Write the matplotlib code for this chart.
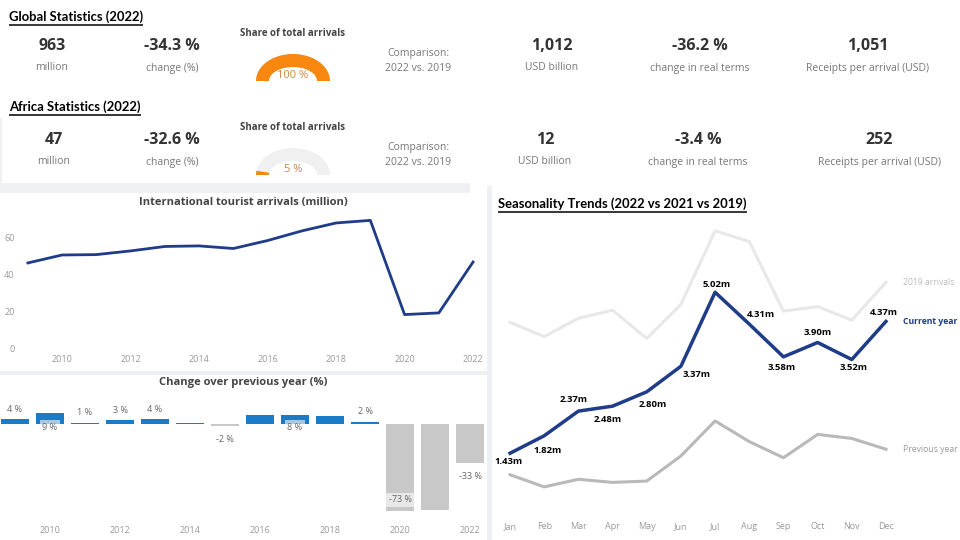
import numpy as np
import matplotlib
matplotlib.use("Agg")
import matplotlib.pyplot as plt
from matplotlib.patches import Rectangle, Polygon

plt.rcParams['font.family'] = ['Open Sans', 'DejaVu Sans']

# ---- data ----
global_values = ["963", "-34.3 %", "1,012", "-36.2 %", "1,051"]
global_labels = ["million", "change (%)", "USD billion", "change in real terms", "Receipts per arrival (USD)"]
global_share = 100
africa_values = ["47", "-32.6 %", "12", "-3.4 %", "252"]
africa_labels = ["million", "change (%)", "USD billion", "change in real terms", "Receipts per arrival (USD)"]
africa_share = 5

years = list(range(2009, 2023))
arrivals = [46.5, 50.8, 51.0, 53.0, 55.4, 55.7, 54.3, 58.6, 63.8, 68.1, 69.5, 18.6, 19.5, 47.0]
change_pct = [4, 9, 1, 3, 4, 0.5, -2, 8, 8, 7, 2, -73, -72, -33]
change_labels = ["4 %", "9 %", "1 %", "3 %", "4 %", "", "-2 %", "", "8 %", "", "2 %", "-73 %", "", "-33 %"]

months = ["Jan", "Feb", "Mar", "Apr", "May", "Jun", "Jul", "Aug", "Sep", "Oct", "Nov", "Dec"]
current_year = [1.43, 1.82, 2.37, 2.48, 2.80, 3.37, 5.02, 4.31, 3.58, 3.90, 3.52, 4.37]
arrivals_2019 = [4.35, 4.03, 4.44, 4.62, 3.99, 4.75, 6.39, 6.15, 4.60, 4.70, 4.40, 5.24]
previous_year = [0.95, 0.68, 0.85, 0.78, 0.81, 1.37, 2.15, 1.69, 1.33, 1.85, 1.76, 1.52]

W, H = 960, 540
fig = plt.figure(figsize=(9.6, 5.4), dpi=100)
fig.patch.set_facecolor("white")

def rect(l, t, r, b):
    return [l / W, 1 - b / H, (r - l) / W, (b - t) / H]

bg = fig.add_axes([0, 0, 1, 1])
bg.set_xlim(0, W); bg.set_ylim(H, 0); bg.axis("off")

SEP = "#eef0f3"
# panel separators
bg.add_patch(Rectangle((0, 183), 470, 10, color=SEP, lw=0))
bg.add_patch(Rectangle((0, 371), 488, 4, color=SEP, lw=0))
bg.add_patch(Rectangle((487, 186), 5, 354, color=SEP, lw=0))
bg.add_patch(Rectangle((0, 118), 2, 66, color=SEP, lw=0))

renderer = fig.canvas.get_renderer()

def title(x, y, s):
    t = bg.text(x, y, s, fontsize=9.4, fontweight="bold", family=["Lato", "DejaVu Sans"],
                color="black", ha="left", va="center")
    bb = t.get_window_extent(renderer)
    bg.plot([bb.x0, bb.x1], [y + 7.5, y + 7.5], color="black", lw=1.1, solid_capstyle="butt")

def gauge(cx, cy, share, lab_y):
    rx_o, ry_o, rx_i, ry_i = 37, 27, 24, 14
    def arc(frac_start, frac_end, color):
        t = np.linspace(np.pi * (1 - frac_start), np.pi * (1 - frac_end), 60)
        outer = np.c_[cx + rx_o * np.cos(t), cy - ry_o * np.sin(t)]
        inner = np.c_[cx + rx_i * np.cos(t[::-1]), cy - ry_i * np.sin(t[::-1])]
        bg.add_patch(Polygon(np.r_[outer, inner], closed=True, color=color, lw=0))
    arc(0, 1, "#f0f0f0")
    arc(0, share / 100, "#f7870f")
    bg.text(cx, lab_y, f"{share} %", fontsize=8, color="#c98a45", ha="center", va="center")

def kpi_row(values, labels, vy, ly, xs):
    for x, v, l in zip(xs, values, labels):
        bg.text(x, vy, v, fontsize=11.5, fontweight="bold", color="#333333", ha="center", va="center")
        bg.text(x, ly, l, fontsize=7.5, color="#777777", ha="center", va="center")

title(9, 17, "Global Statistics (2022)")
kpi_row(global_values, global_labels, 46, 68, [52, 172, 552, 700, 868])
bg.text(293, 34, "Share of total arrivals", fontsize=7, fontweight="bold", color="#444444", ha="center", va="center")
gauge(293, 81, global_share, 75)
bg.text(418, 61, "Comparison:\n2022 vs. 2019", fontsize=7.5, color="#777777", ha="center", va="center", linespacing=1.5)

title(9, 107, "Africa Statistics (2022)")
kpi_row(africa_values, africa_labels, 140, 162, [54, 172, 545, 698, 879])
bg.text(293, 128, "Share of total arrivals", fontsize=7, fontweight="bold", color="#444444", ha="center", va="center")
gauge(293, 175, africa_share, 169)
bg.text(418, 155, "Comparison:\n2022 vs. 2019", fontsize=7.5, color="#777777", ha="center", va="center", linespacing=1.5)

title(498, 204, "Seasonality Trends (2022 vs 2021 vs 2019)")

# ---- arrivals line chart ----
ax1 = fig.add_axes(rect(20, 215, 483, 349))
ax1.plot(years, arrivals, color="#1f3c88", lw=2)
ax1.set_xlim(2008.77, 2022.29)
ax1.set_ylim(0, 72.4)
ax1.set_yticks([0, 20, 40, 60])
ax1.set_xticks([2010, 2012, 2014, 2016, 2018, 2020, 2022])
for s in ax1.spines.values():
    s.set_visible(False)
ax1.tick_params(length=0, labelsize=6.5, labelcolor="#999999", pad=4)
ax1.set_facecolor("none")
bg.text(243, 203, "International tourist arrivals (million)", fontsize=8, fontweight="bold",
        color="#444444", ha="center", va="center")

# ---- change bar chart ----
ax2 = fig.add_axes(rect(0, 395, 490, 520))
cols = ["#1a7cc8" if v >= 0 else "#c8c8c8" for v in change_pct]
ax2.bar(years, change_pct, width=0.82, color=cols)
ax2.set_xlim(2008.571, 2022.571)
ax2.set_ylim(-80.7, 24.4)
for yr, v, lab in zip(years, change_pct, change_labels):
    if not lab:
        continue
    if yr in (2010, 2017):
        ax2.annotate(lab, (yr, 0), xytext=(0, -3), textcoords="offset pixels", ha="center", va="center",
                     fontsize=6.5, color="#666666",
                     bbox=dict(boxstyle="square,pad=0.3", fc="white", ec="none", alpha=0.6))
    elif yr == 2020:
        ax2.annotate(lab, (yr, v), xytext=(0, 11), textcoords="offset pixels", ha="center", va="center",
                     fontsize=6.5, color="#666666",
                     bbox=dict(boxstyle="square,pad=0.3", fc="white", ec="none", alpha=0.6))
    elif v >= 0:
        ax2.annotate(lab, (yr, v), xytext=(0, 10), textcoords="offset pixels", ha="center", va="center",
                     fontsize=6.5, color="#666666")
    else:
        ax2.annotate(lab, (yr, v), xytext=(0, -13), textcoords="offset pixels", ha="center", va="center",
                     fontsize=6.5, color="#666666")
ax2.set_xticks([2010, 2012, 2014, 2016, 2018, 2020, 2022])
ax2.set_yticks([])
for s in ax2.spines.values():
    s.set_visible(False)
ax2.tick_params(length=0, labelsize=6.5, labelcolor="#999999", pad=4)
ax2.set_facecolor("none")
bg.text(243, 383, "Change over previous year (%)", fontsize=8, fontweight="bold",
        color="#444444", ha="center", va="center")

# ---- seasonality chart ----
ax3 = fig.add_axes(rect(495, 225, 955, 512))
x = np.arange(len(months))
ax3.plot(x, arrivals_2019, color="#e8e8e8", lw=2.2)
ax3.plot(x, previous_year, color="#b9b9b9", lw=2.2)
ax3.plot(x, current_year, color="#1f3c88", lw=2.5)
ax3.set_xlim(-0.44, 13.02)
ax3.set_ylim(0.12, 6.52)
label_offsets = [(-2, -8), (3, -15), (-5, 12), (-5, -13), (6, -13), (16, -8),
                 (2, 8), (12, 10), (-2, -11), (0, 10), (2, -8), (-2, 9)]
for i, (v, off) in enumerate(zip(current_year, label_offsets)):
    ax3.annotate(f"{v:.2f}m", (i, v), xytext=off, textcoords="offset pixels", ha="center", va="center",
                 fontsize=6.8, fontweight="bold", color="black")
ax3.text(11.5, arrivals_2019[-1], "2019 arrivals", fontsize=6.2, color="#bbbbbb", ha="left", va="center")
ax3.text(11.5, current_year[-1], "Current year", fontsize=6.2, fontweight="bold", color="#1f3c88", ha="left", va="center")
ax3.text(11.5, previous_year[-1], "Previous year", fontsize=6.2, color="#999999", ha="left", va="center")
ax3.set_xticks(x)
ax3.set_xticklabels(months)
ax3.set_yticks([])
for s in ax3.spines.values():
    s.set_visible(False)
ax3.tick_params(length=0, labelsize=6.5, labelcolor="#999999", pad=7)
ax3.set_facecolor("none")

fig.savefig("out.png", dpi=100, facecolor="white")
